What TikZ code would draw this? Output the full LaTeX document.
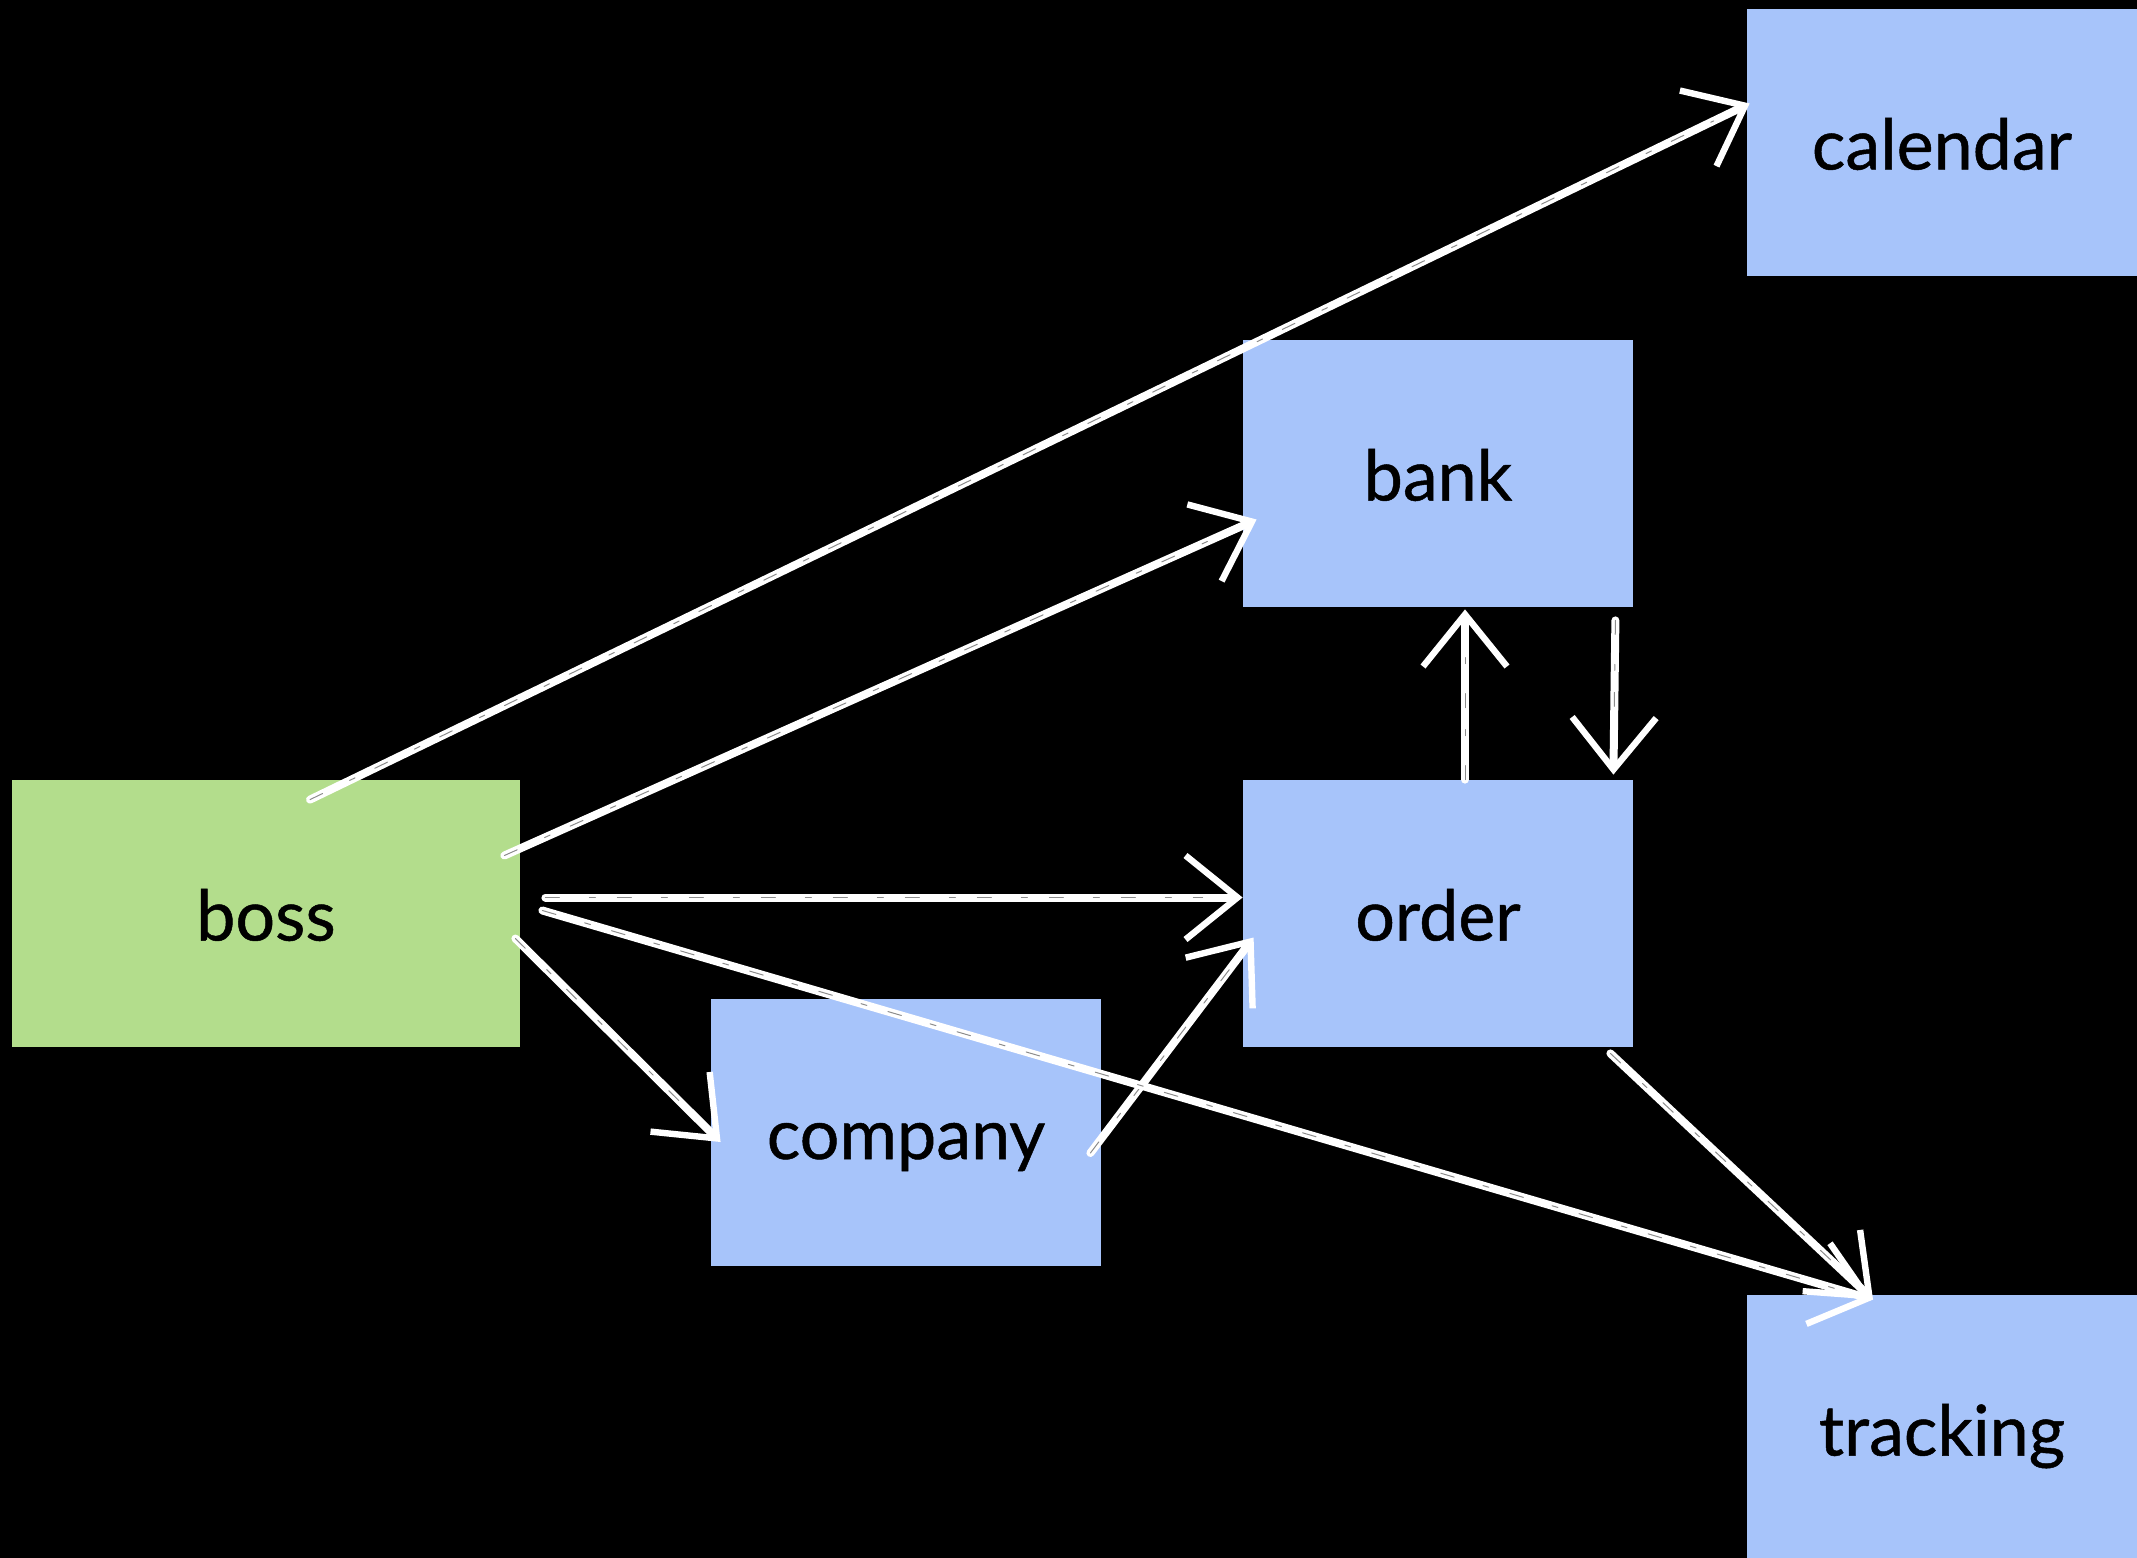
\documentclass[tikz,border=0pt]{standalone}
\usepackage{fontspec}
\setmainfont{Lato}
\newfontfamily\cardfont{Lato}[FakeBold=0.7]
\usetikzlibrary{arrows.meta,calc}
\definecolor{boxblue}{RGB}{167,196,250}
\definecolor{boxgreen}{RGB}{179,221,140}
\begin{document}
\begin{tikzpicture}[x=0.5pt,y=-0.5pt,
  labelfont/.style={font=\cardfont\fontsize{35pt}{40pt}\selectfont,
    text height=27pt, text depth=0pt, inner sep=0pt},
  card/.style={labelfont, minimum width=195pt, minimum height=133.5pt,
    fill=boxblue, draw=none, text=black},
  % white chalk stroke with a few dark streaks running along it
  chalk/.style={draw=white, line width=4pt, line cap=round,
    -{Straight Barb[length=26pt,width=42pt,line width=3.2pt]},
    postaction={draw=black, line width=0.5pt, opacity=0.45, -,
      dash pattern=on 7pt off 15pt on 3pt off 11pt, shorten >=20pt}},
]
\useasboundingbox (0,0) rectangle (2137,1558);
\fill[black] (0,0) rectangle (2137,1558);
\begin{scope}
\clip (0,0) rectangle (2137,1558);
\node[card, fill=boxgreen, minimum width=254pt] (boss) at (266,913.5) {boss};
\node[card] (calendar) at (1942,142.5) {calendar};
\node[card] (bank) at (1438,473.5) {bank};
\node[card] (order) at (1438,913.5) {order};
\node[card] (company) at (906,1132) {company};
\node[card] (tracking) at (1942,1428.5) {tracking};
\end{scope}

\draw[chalk] ([shift={(44,20)}]boss.north) -- ([shift={(3,-39)}]calendar.west);
\draw[chalk] ([shift={(-16,-58)}]boss.east) -- ([shift={(14,46)}]bank.west);
\draw[chalk] ([shift={(25,-16)}]boss.east) -- ([shift={(0,-16)}]order.west);
\draw[chalk] ([shift={(-5,25)}]boss.east) -- ([shift={(10,10)}]company.west);
\draw[chalk] ([shift={(-11,21)}]company.east) -- ([shift={(11,24)}]order.west);
\draw[chalk] ([shift={(22,-3)}]boss.east) -- ([shift={(-69,5)}]tracking.north);
\draw[chalk] ([shift={(-23,6)}]order.south east) -- ([shift={(-69,5)}]tracking.north);
\draw[chalk] ([shift={(27,0)}]order.north) -- ([shift={(27,2)}]bank.south);
\draw[chalk] ([shift={(-18,13)}]bank.south east) -- ([shift={(-20,-5)}]order.north east);
\end{tikzpicture}
\end{document}
